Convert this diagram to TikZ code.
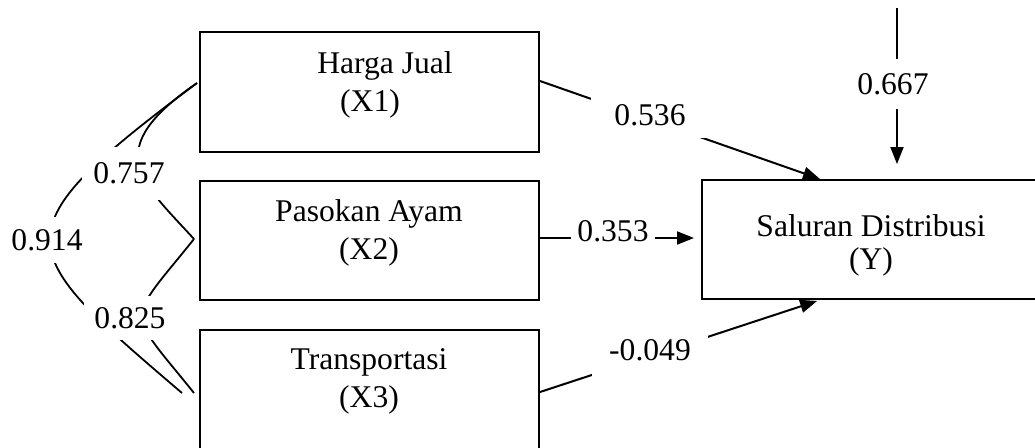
\documentclass[tikz,border=0pt]{standalone}
\usepackage{fontspec}
\setmainfont{Liberation Serif}
\usetikzlibrary{arrows.meta}
\tikzset{
  box/.style={draw, line width=1pt, inner sep=0pt, fill=none},
  txt/.style={align=center, inner sep=0pt, font=\fontsize{15.8pt}{19pt}\selectfont},
  lab/.style={fill=white, inner sep=0pt, font=\fontsize{15.8pt}{19pt}\selectfont},
  conn/.style={line width=1pt, -{Triangle[length=8.5pt,width=6.5pt]}},
  corr/.style={line width=0.9pt},
}
\begin{document}
\begin{tikzpicture}[x=0.5pt,y=-0.5pt]
\useasboundingbox (0,0) rectangle (1035,447);
\clip (0,0) rectangle (1035,447);
% boxes
\node[box, minimum width=169.5pt, minimum height=60pt] (x1) at (369.5,92) {};
\node[box, minimum width=169.5pt, minimum height=59.5pt] (x2) at (369.5,240.5) {};
\node[box, minimum width=169.5pt, minimum height=61pt] (x3) at (369.5,391) {};
\node[box, minimum width=170pt, minimum height=59.5pt] (y) at (872,239.5) {};
% box texts
\node[txt] (x1t) at (370,85) {\hspace*{15pt}Harga Jual\\(X1)};
\node[txt] (x2t) at (369,233) {Pasokan Ayam\\(X2)};
\node[txt] (x3t) at (369,381.5) {Transportasi\\(X3)};
\node[txt, font=\fontsize{15.8pt}{16.5pt}\selectfont] (yt) at (871,245) {Saluran Distribusi\\(Y)};
% helper coordinates
\coordinate (h81) at (0,81);
\coordinate (h238) at (0,238);
\coordinate (h392) at (0,392);
\coordinate (h820) at (820,0);
\coordinate (e0) at (897,8);
\coordinate (k1) at (197,83);
\coordinate (k2) at (194,239);
\coordinate (k3a) at (194,393);
\coordinate (k3b) at (182,393);
% path arrows
\draw[conn] (x1.east |- h81) -- (y.north -| h820);
\draw[conn, shorten >=3.5pt] (x2.east |- h238) -- (y.west |- h238);
\draw[conn, shorten >=1.5pt] (x3.east |- h392) -- (y.south -| h820);
\draw[conn, shorten >=7.5pt] (e0) -- (y.north -| e0);
% correlation curves
\draw[corr] (k1) .. controls (100,150) and (140,180) .. (k2);
\draw[corr] (k1) .. controls (-4.6,233.6) and (11.6,247.4) .. (k3b);
\draw[corr] (k2) .. controls (125,325) and (125,307) .. (k3a);
% labels
\node[lab, inner xsep=5.5pt, inner ysep=8pt] (l757) at (129,173.5) {0.757};
\node[lab, inner xsep=3.25pt, inner ysep=6.25pt] (l914) at (47,240) {0.914};
\node[lab, inner xsep=5pt, inner ysep=5.75pt] (l825) at (130,318) {0.825};
\node[lab, inner xsep=11.5pt, inner ysep=6pt] (l536) at (650,115) {0.536};
\node[lab, inner xsep=3.25pt, inner ysep=4.75pt] (l353) at (613,231) {0.353};
\node[lab, inner xsep=8.5pt, inner ysep=7.5pt] (l049) at (650,350) {-0.049};
\node[lab, inner xsep=3pt, inner ysep=7.25pt] (l667) at (893,84) {0.667};
\end{tikzpicture}
\end{document}
